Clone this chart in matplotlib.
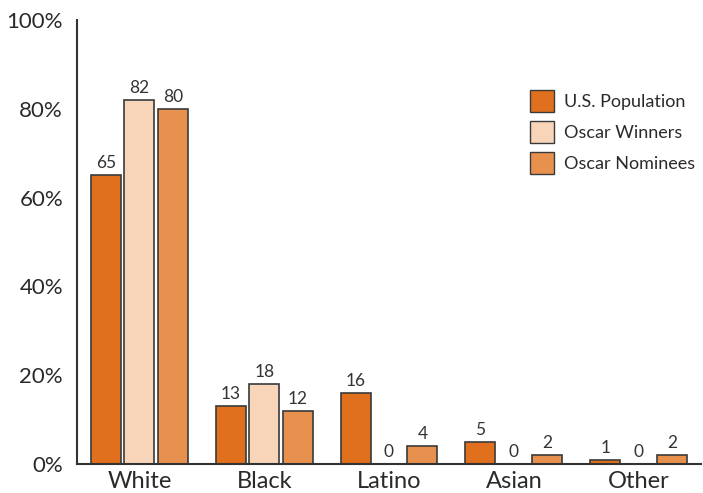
import numpy as np
import matplotlib.pyplot as plt
from matplotlib.patches import Patch

plt.rcParams['font.family'] = ['Lato', 'DejaVu Sans']

categories = ['White', 'Black', 'Latino', 'Asian', 'Other']
us_population = [65, 13, 16, 5, 1]
oscar_winners = [82, 18, 0, 0, 0]
oscar_nominees = [80, 12, 4, 2, 2]

series = [
    ('U.S. Population', us_population, '#E0701E'),
    ('Oscar Winners', oscar_winners, '#F8D5B8'),
    ('Oscar Nominees', oscar_nominees, '#E8904E'),
]

fig = plt.figure(figsize=(7.03, 4.93), dpi=100)
ax = fig.add_axes([77 / 703, 29 / 493, 624 / 703, 444 / 493])

x = np.arange(len(categories))
width = 0.24
offsets = [-0.268, 0, 0.268]

for (name, vals, color), off in zip(series, offsets):
    bars = ax.bar(x + off, vals, width, color=color, edgecolor='#3a3a3a', linewidth=1.2)
    for b, v in zip(bars, vals):
        ax.text(b.get_x() + b.get_width() / 2, v + 0.9, str(v), ha='center', va='bottom',
                fontsize=12.5, color='#333333')

ax.set_xlim(-0.5, 4.5)
ax.set_ylim(0, 100)
ax.set_yticks([0, 20, 40, 60, 80, 100])
ax.set_yticklabels(['0%', '20%', '40%', '60%', '80%', '100%'])
ax.set_xticks(x)
ax.set_xticklabels(categories)
ax.tick_params(axis='both', length=0, labelsize=16, colors='#2a2a2a')
ax.tick_params(axis='x', labelsize=17, pad=5)
ax.tick_params(axis='y', pad=10)

for s in ['top', 'right']:
    ax.spines[s].set_visible(False)
for s in ['left', 'bottom']:
    ax.spines[s].set_color('#333333')
    ax.spines[s].set_linewidth(1.5)

handles = [Patch(facecolor=c, edgecolor='#3a3a3a', label=n) for n, _, c in series]
leg = ax.legend(handles=handles, loc='upper left', bbox_to_anchor=(0.726, 0.842), frameon=False,
                fontsize=13, handlelength=1.33, handleheight=1.5, handletextpad=0.55,
                labelspacing=0.5, borderpad=0, borderaxespad=0)
for t in leg.get_texts():
    t.set_color('#2a2a2a')

fig.savefig('out.png', dpi=100)
